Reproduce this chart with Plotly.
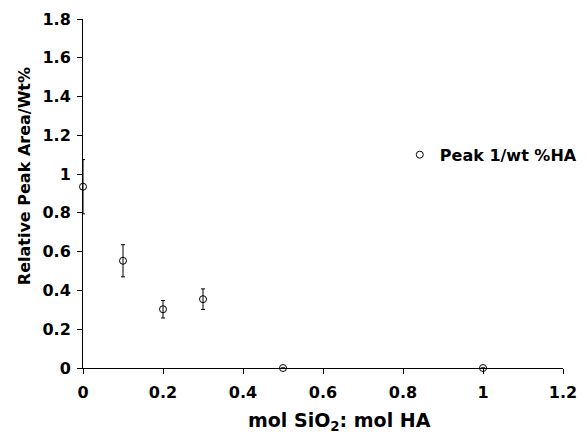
import plotly.graph_objects as go

mol_ratio = [0, 0.1, 0.2, 0.3, 0.5, 1.0]
peak_area = [0.935, 0.553, 0.303, 0.355, 0.0, 0.0]
error = [0.14, 0.083, 0.045, 0.053, 0.0, 0.0]

x_ticks = [0, 0.2, 0.4, 0.6, 0.8, 1, 1.2]
x_tick_labels = ["0", "0.2", "0.4", "0.6", "0.8", "1", "1.2"]
y_ticks = [0, 0.2, 0.4, 0.6, 0.8, 1, 1.2, 1.4, 1.6, 1.8]
y_tick_labels = ["0", "0.2", "0.4", "0.6", "0.8", "1", "1.2", "1.4", "1.6", "1.8"]

x_title = "mol SiO<sub>2</sub>: mol HA"
y_title = "Relative Peak Area/Wt%"

FONT = "DejaVu Sans"

fig = go.Figure()
fig.add_trace(go.Scatter(
    x=mol_ratio, y=peak_area, mode="markers", name="Peak 1/wt %HA",
    marker=dict(symbol="circle-open", size=7, color="black", line=dict(width=1, color="black")),
    error_y=dict(type="data", array=error, visible=True, color="black", thickness=1, width=2),
    cliponaxis=False,
))

axis_common = dict(
    showline=True, linecolor="black", linewidth=1, ticks="outside", ticklen=5,
    tickcolor="black", tickwidth=1, showgrid=False, zeroline=False,
    tickfont=dict(size=16, color="black", family=FONT, weight="bold"),
)
fig.update_xaxes(range=[0, 1.2], tickvals=x_ticks, ticktext=x_tick_labels,
                 ticklabelstandoff=5, **axis_common)
fig.update_yaxes(range=[0, 1.8], tickvals=y_ticks, ticktext=y_tick_labels,
                 ticklabelstandoff=3, **axis_common)

# axis titles as annotations (the reference places them off the plot centre)
fig.add_annotation(text=x_title, xref="paper", yref="paper", x=0.535, y=-0.152,
                   xanchor="center", yanchor="middle", showarrow=False,
                   font=dict(size=19, color="black", family=FONT, weight="bold"))
fig.add_annotation(text=y_title, xref="paper", yref="paper", x=-0.122, y=0.551,
                   xanchor="center", yanchor="middle", showarrow=False, textangle=-90,
                   font=dict(size=16, color="black", family=FONT, weight="bold"))

# page body has an 8px margin in the written html; size the figure to compensate
fig.update_layout(
    width=579, height=428,
    margin=dict(l=75, r=24, t=11, b=68, autoexpand=False),
    paper_bgcolor="white", plot_bgcolor="white",
    showlegend=True,
    legend=dict(x=0.66, y=0.611, xanchor="left", yanchor="middle",
                font=dict(size=16, color="black", family=FONT, weight="bold"),
                bgcolor="rgba(0,0,0,0)", itemwidth=30),
    font=dict(family=FONT, color="black"),
)

fig.write_html("out.html")
